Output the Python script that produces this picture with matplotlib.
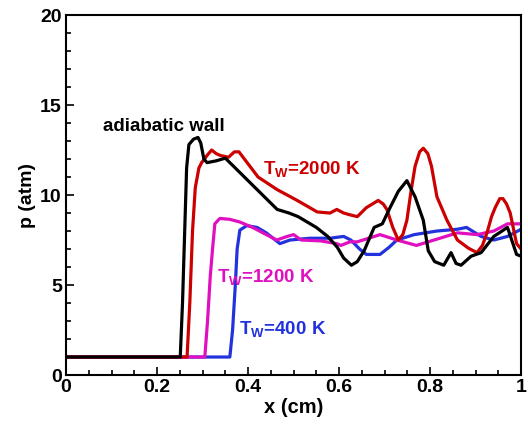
import matplotlib
matplotlib.use("Agg")
import matplotlib.pyplot as plt
from matplotlib.ticker import MultipleLocator

plt.rcParams['font.family'] = ['Liberation Sans', 'DejaVu Sans']
plt.rcParams['font.weight'] = 'bold'

# adiabatic wall (black)
x_ad = [0, 0.251, 0.256, 0.262, 0.265, 0.270, 0.280, 0.290, 0.296, 0.303, 0.310, 0.330, 0.350,
        0.376, 0.400, 0.420, 0.440, 0.464, 0.490, 0.510, 0.550, 0.575, 0.596, 0.610, 0.627,
        0.640, 0.655, 0.677, 0.695, 0.712, 0.730, 0.749, 0.767, 0.785, 0.796, 0.810, 0.830,
        0.846, 0.857, 0.868, 0.890, 0.912, 0.940, 0.970, 0.990, 1.0]
p_ad = [1, 1, 4, 9, 11.5, 12.8, 13.1, 13.2, 12.9, 12.0, 11.8, 11.9, 12.05,
        11.4, 10.8, 10.3, 9.8, 9.2, 9.0, 8.8, 8.2, 7.7, 7.1, 6.5, 6.1,
        6.3, 6.9, 8.2, 8.4, 9.3, 10.2, 10.8, 9.9, 8.6, 6.9, 6.3, 6.1,
        6.8, 6.2, 6.1, 6.6, 6.8, 7.7, 8.2, 6.7, 6.6]

# T_W = 2000 K (red)
x_2000 = [0, 0.266, 0.272, 0.278, 0.284, 0.292, 0.298, 0.310, 0.320, 0.330, 0.339, 0.357,
          0.370, 0.380, 0.392, 0.404, 0.422, 0.440, 0.464, 0.508, 0.552, 0.580, 0.595, 0.610,
          0.624, 0.640, 0.660, 0.686, 0.697, 0.705, 0.718, 0.730, 0.740, 0.749, 0.758, 0.767,
          0.777, 0.785, 0.795, 0.803, 0.815, 0.837, 0.860, 0.884, 0.903, 0.915, 0.925, 0.935,
          0.943, 0.953, 0.960, 0.968, 0.976, 0.985, 0.990, 1.0]
p_2000 = [1, 1, 4, 8, 10.4, 11.5, 11.8, 12.2, 12.5, 12.3, 12.2, 12.1,
          12.4, 12.4, 12.0, 11.6, 11.0, 10.7, 10.3, 9.7, 9.06, 9.0, 9.2, 9.0,
          8.9, 8.8, 9.3, 9.7, 9.5, 9.2, 8.2, 7.5, 7.8, 8.6, 10.2, 11.6,
          12.4, 12.6, 12.3, 11.6, 9.9, 8.6, 7.5, 7.05, 6.8, 7.2, 7.9, 8.8,
          9.3, 9.8, 9.8, 9.5, 9.0, 7.9, 7.3, 7.0]

# T_W = 1200 K (magenta)
x_1200 = [0, 0.305, 0.311, 0.317, 0.322, 0.327, 0.338, 0.360, 0.382, 0.410, 0.440, 0.463,
          0.486, 0.500, 0.517, 0.560, 0.595, 0.604, 0.624, 0.640, 0.690, 0.727, 0.770, 0.815,
          0.860, 0.903, 0.940, 0.970, 1.0]
p_1200 = [1, 1, 3, 5.5, 7.0, 8.4, 8.7, 8.65, 8.5, 8.2, 7.8, 7.5,
          7.7, 7.8, 7.5, 7.45, 7.3, 7.2, 7.4, 7.4, 7.8, 7.5, 7.2, 7.55,
          7.9, 7.8, 8.0, 8.4, 8.4]

# T_W = 400 K (blue)
x_400 = [0, 0.360, 0.366, 0.372, 0.376, 0.382, 0.397, 0.420, 0.440, 0.455, 0.470, 0.492,
         0.536, 0.580, 0.610, 0.626, 0.645, 0.660, 0.690, 0.710, 0.727, 0.765, 0.815, 0.860,
         0.880, 0.912, 0.940, 0.970, 1.0]
p_400 = [1, 1, 2.5, 5, 7, 8.05, 8.3, 8.2, 7.9, 7.6, 7.3, 7.5,
         7.6, 7.6, 7.7, 7.5, 7.0, 6.7, 6.7, 7.1, 7.5, 7.8, 8.0, 8.1,
         8.2, 7.7, 7.5, 7.7, 8.1]

fig = plt.figure(figsize=(5.28, 4.25), dpi=100)
ax = fig.add_axes([0.125, 0.1176, 0.862, 0.847])

lw = 2.3
ax.plot(x_400, p_400, color='#2233dd', lw=lw)
ax.plot(x_1200, p_1200, color='#e010c0', lw=lw)
ax.plot(x_2000, p_2000, color='#cc0000', lw=lw)
ax.plot(x_ad, p_ad, color='black', lw=lw)

fs_note = 13.5
ax.text(0.081, 13.8, 'adiabatic wall', color='black', fontsize=fs_note, va='center', fontweight='bold')
ax.text(0.432, 11.4, r'T$_\mathregular{W}$=2000 K', color='#cc0000', fontsize=fs_note, va='center', fontweight='bold')
ax.text(0.332, 5.4, r'T$_\mathregular{W}$=1200 K', color='#e010c0', fontsize=fs_note, va='center', fontweight='bold')
ax.text(0.380, 2.5, r'T$_\mathregular{W}$=400 K', color='#2233dd', fontsize=fs_note, va='center', fontweight='bold')

ax.set_xlim(0, 1)
ax.set_ylim(0, 20)
ax.xaxis.set_minor_locator(MultipleLocator(0.05))
ax.yaxis.set_major_locator(MultipleLocator(5))
ax.yaxis.set_minor_locator(MultipleLocator(1))
ax.set_xticks([0, 0.2, 0.4, 0.6, 0.8, 1.0])
ax.set_xticklabels(['0', '0.2', '0.4', '0.6', '0.8', '1'])
ax.tick_params(which='both', direction='in', top=False, right=False, labelsize=14, width=1.2)
ax.tick_params(which='major', length=6, pad=3)
ax.tick_params(which='minor', length=3.5)
for s in ax.spines.values():
    s.set_linewidth(1.5)

ax.set_xlabel('x (cm)', fontsize=14.5, fontweight='bold', labelpad=1)
ax.set_ylabel('p (atm)', fontsize=14, fontweight='bold', labelpad=3)

fig.savefig('out.png', dpi=100)
